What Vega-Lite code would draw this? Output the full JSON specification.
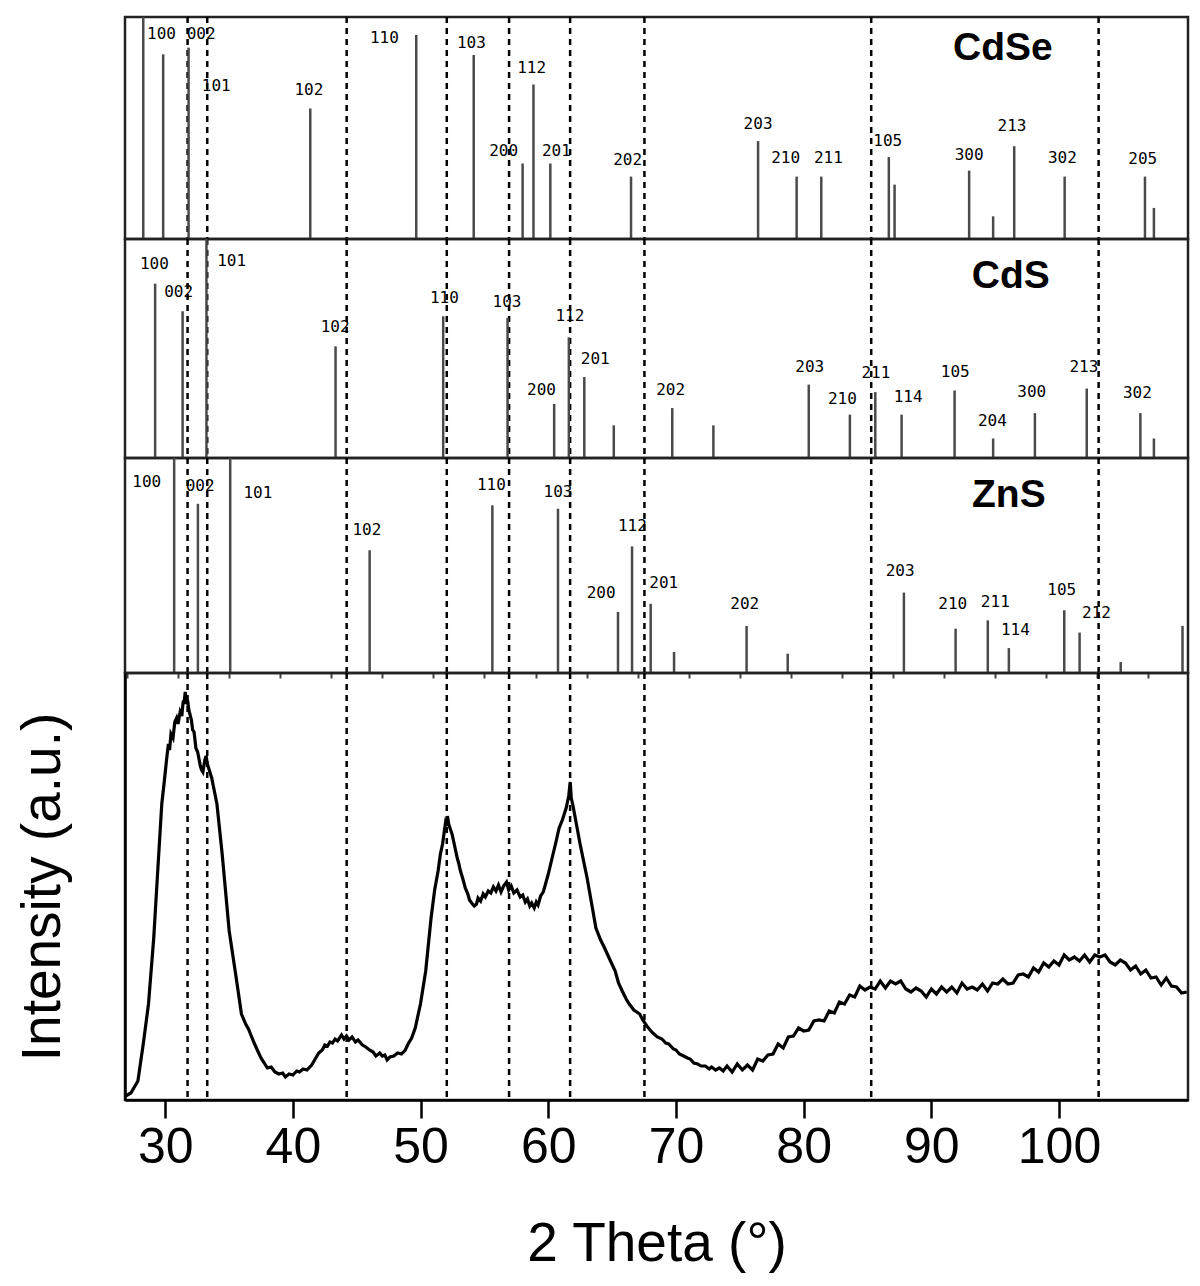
{
  "$schema": "https://vega.github.io/schema/vega-lite/v6.json",
  "background": "white",
  "padding": {"left": 13, "top": 14, "right": 10, "bottom": 5},
  "spacing": 0,
  "bounds": "flush",
  "config": {
    "view": {"stroke": "#222", "strokeWidth": 2.5},
    "font": "Liberation Sans"
  },
  "datasets": {
    "dashes": [{"t": 31.75}, {"t": 33.29}, {"t": 44.21}, {"t": 52.05}, {"t": 56.93}, {"t": 61.71}, {"t": 67.53}, {"t": 85.29}, {"t": 103.1}],
    "sticks": [
      {"phase": "CdSe", "t": 28.28, "h": 100}, {"phase": "CdSe", "t": 29.84, "h": 83.2}, {"phase": "CdSe", "t": 31.83, "h": 86.2}, {"phase": "CdSe", "t": 41.36, "h": 58.8}, {"phase": "CdSe", "t": 49.66, "h": 91.9}, {"phase": "CdSe", "t": 54.16, "h": 82.9}, {"phase": "CdSe", "t": 57.99, "h": 34.0}, {"phase": "CdSe", "t": 58.84, "h": 69.6}, {"phase": "CdSe", "t": 60.16, "h": 34.0}, {"phase": "CdSe", "t": 66.48, "h": 28.1}, {"phase": "CdSe", "t": 76.43, "h": 44.1}, {"phase": "CdSe", "t": 79.45, "h": 28.1}, {"phase": "CdSe", "t": 81.38, "h": 28.1}, {"phase": "CdSe", "t": 86.67, "h": 36.9}, {"phase": "CdSe", "t": 87.12, "h": 24.5}, {"phase": "CdSe", "t": 92.96, "h": 30.8}, {"phase": "CdSe", "t": 94.84, "h": 10.2}, {"phase": "CdSe", "t": 96.49, "h": 41.8}, {"phase": "CdSe", "t": 100.44, "h": 28.1}, {"phase": "CdSe", "t": 106.73, "h": 28.1}, {"phase": "CdSe", "t": 107.43, "h": 14.0},
      {"phase": "CdS", "t": 29.21, "h": 79.6}, {"phase": "CdS", "t": 31.36, "h": 67.0}, {"phase": "CdS", "t": 33.23, "h": 100}, {"phase": "CdS", "t": 43.34, "h": 51.0}, {"phase": "CdS", "t": 51.77, "h": 64.7}, {"phase": "CdS", "t": 56.81, "h": 63.9}, {"phase": "CdS", "t": 60.46, "h": 24.7}, {"phase": "CdS", "t": 61.61, "h": 55.1}, {"phase": "CdS", "t": 62.82, "h": 37.0}, {"phase": "CdS", "t": 65.13, "h": 14.9}, {"phase": "CdS", "t": 69.71, "h": 22.8}, {"phase": "CdS", "t": 72.93, "h": 14.9}, {"phase": "CdS", "t": 80.4, "h": 33.5}, {"phase": "CdS", "t": 83.62, "h": 19.8}, {"phase": "CdS", "t": 85.61, "h": 30.1}, {"phase": "CdS", "t": 87.67, "h": 19.8}, {"phase": "CdS", "t": 91.82, "h": 30.8}, {"phase": "CdS", "t": 94.84, "h": 8.9}, {"phase": "CdS", "t": 98.11, "h": 20.5}, {"phase": "CdS", "t": 102.17, "h": 31.7}, {"phase": "CdS", "t": 106.37, "h": 20.5}, {"phase": "CdS", "t": 107.43, "h": 8.9},
      {"phase": "ZnS", "t": 30.7, "h": 100}, {"phase": "ZnS", "t": 32.56, "h": 78.7}, {"phase": "ZnS", "t": 35.09, "h": 100}, {"phase": "ZnS", "t": 46.01, "h": 57.1}, {"phase": "ZnS", "t": 55.62, "h": 78.0}, {"phase": "ZnS", "t": 60.76, "h": 76.4}, {"phase": "ZnS", "t": 65.46, "h": 28.4}, {"phase": "ZnS", "t": 66.56, "h": 58.9}, {"phase": "ZnS", "t": 68.02, "h": 32.2}, {"phase": "ZnS", "t": 69.85, "h": 9.8}, {"phase": "ZnS", "t": 75.53, "h": 21.9}, {"phase": "ZnS", "t": 78.75, "h": 9.0}, {"phase": "ZnS", "t": 87.85, "h": 37.4}, {"phase": "ZnS", "t": 91.9, "h": 20.6}, {"phase": "ZnS", "t": 94.42, "h": 24.5}, {"phase": "ZnS", "t": 96.07, "h": 11.6}, {"phase": "ZnS", "t": 100.41, "h": 29.2}, {"phase": "ZnS", "t": 101.61, "h": 18.8}, {"phase": "ZnS", "t": 104.83, "h": 5.1}, {"phase": "ZnS", "t": 109.67, "h": 21.9}
    ],
    "labels": [
      {"phase": "CdSe", "hkl": "100", "t": 29.71, "y": 92.3}, {"phase": "CdSe", "hkl": "002", "t": 32.81, "y": 92.3}, {"phase": "CdSe", "hkl": "101", "t": 34.0, "y": 68.9}, {"phase": "CdSe", "hkl": "102", "t": 41.25, "y": 67.1}, {"phase": "CdSe", "hkl": "110", "t": 47.16, "y": 90.5}, {"phase": "CdSe", "hkl": "103", "t": 53.98, "y": 88.3}, {"phase": "CdSe", "hkl": "112", "t": 58.7, "y": 77.0}, {"phase": "CdSe", "hkl": "200", "t": 56.5, "y": 39.6}, {"phase": "CdSe", "hkl": "201", "t": 60.63, "y": 39.6}, {"phase": "CdSe", "hkl": "202", "t": 66.21, "y": 35.5}, {"phase": "CdSe", "hkl": "203", "t": 76.43, "y": 51.7}, {"phase": "CdSe", "hkl": "210", "t": 78.59, "y": 36.4}, {"phase": "CdSe", "hkl": "211", "t": 81.94, "y": 36.4}, {"phase": "CdSe", "hkl": "105", "t": 86.59, "y": 44.1}, {"phase": "CdSe", "hkl": "300", "t": 92.96, "y": 37.8}, {"phase": "CdSe", "hkl": "213", "t": 96.32, "y": 50.8}, {"phase": "CdSe", "hkl": "302", "t": 100.26, "y": 36.4}, {"phase": "CdSe", "hkl": "205", "t": 106.56, "y": 35.9},
      {"phase": "CdS", "hkl": "100", "t": 29.15, "y": 88.7}, {"phase": "CdS", "hkl": "002", "t": 31.05, "y": 75.9}, {"phase": "CdS", "hkl": "101", "t": 35.2, "y": 90.0}, {"phase": "CdS", "hkl": "102", "t": 43.31, "y": 59.7}, {"phase": "CdS", "hkl": "110", "t": 51.86, "y": 72.9}, {"phase": "CdS", "hkl": "103", "t": 56.77, "y": 71.3}, {"phase": "CdS", "hkl": "112", "t": 61.69, "y": 64.7}, {"phase": "CdS", "hkl": "201", "t": 63.68, "y": 45.1}, {"phase": "CdS", "hkl": "200", "t": 59.47, "y": 30.9}, {"phase": "CdS", "hkl": "202", "t": 69.58, "y": 30.9}, {"phase": "CdS", "hkl": "203", "t": 80.48, "y": 41.4}, {"phase": "CdS", "hkl": "210", "t": 83.03, "y": 26.8}, {"phase": "CdS", "hkl": "211", "t": 85.66, "y": 38.7}, {"phase": "CdS", "hkl": "114", "t": 88.18, "y": 27.9}, {"phase": "CdS", "hkl": "105", "t": 91.87, "y": 39.4}, {"phase": "CdS", "hkl": "204", "t": 94.78, "y": 17.1}, {"phase": "CdS", "hkl": "300", "t": 97.86, "y": 30.0}, {"phase": "CdS", "hkl": "213", "t": 101.95, "y": 41.4}, {"phase": "CdS", "hkl": "302", "t": 106.14, "y": 29.5},
      {"phase": "ZnS", "hkl": "100", "t": 28.55, "y": 88.8}, {"phase": "ZnS", "hkl": "002", "t": 32.73, "y": 87.0}, {"phase": "ZnS", "hkl": "101", "t": 37.26, "y": 83.5}, {"phase": "ZnS", "hkl": "102", "t": 45.79, "y": 66.7}, {"phase": "ZnS", "hkl": "110", "t": 55.54, "y": 87.4}, {"phase": "ZnS", "hkl": "103", "t": 60.76, "y": 84.4}, {"phase": "ZnS", "hkl": "112", "t": 66.59, "y": 68.4}, {"phase": "ZnS", "hkl": "200", "t": 64.14, "y": 37.0}, {"phase": "ZnS", "hkl": "201", "t": 69.04, "y": 41.9}, {"phase": "ZnS", "hkl": "202", "t": 75.39, "y": 31.9}, {"phase": "ZnS", "hkl": "203", "t": 87.56, "y": 47.3}, {"phase": "ZnS", "hkl": "210", "t": 91.68, "y": 31.9}, {"phase": "ZnS", "hkl": "211", "t": 95.01, "y": 32.8}, {"phase": "ZnS", "hkl": "114", "t": 96.58, "y": 19.8}, {"phase": "ZnS", "hkl": "105", "t": 100.21, "y": 38.5}, {"phase": "ZnS", "hkl": "212", "t": 102.93, "y": 28.1}
    ],
    "names": [
      {"phase": "CdSe", "t": 95.6, "y": 86.0}, {"phase": "CdS", "t": 96.22, "y": 83.0}, {"phase": "ZnS", "t": 96.07, "y": 82.7}
    ],
    "xrd": [
      {"t": 26.9, "i": 4}, {"t": 27.31, "i": 7}, {"t": 27.86, "i": 19}, {"t": 28.28, "i": 56}, {"t": 28.69, "i": 96}, {"t": 29.1, "i": 162}, {"t": 29.38, "i": 222}, {"t": 29.73, "i": 296}, {"t": 29.93, "i": 319}, {"t": 30.12, "i": 342}, {"t": 30.25, "i": 356}, {"t": 30.34, "i": 350}, {"t": 30.45, "i": 366}, {"t": 30.61, "i": 362}, {"t": 30.75, "i": 378}, {"t": 30.89, "i": 382}, {"t": 31.0, "i": 376}, {"t": 31.17, "i": 388}, {"t": 31.3, "i": 384}, {"t": 31.4, "i": 398}, {"t": 31.5, "i": 400}, {"t": 31.57, "i": 408}, {"t": 31.65, "i": 396}, {"t": 31.75, "i": 400}, {"t": 31.85, "i": 390}, {"t": 32.05, "i": 380}, {"t": 32.15, "i": 370}, {"t": 32.26, "i": 368}, {"t": 32.4, "i": 352}, {"t": 32.54, "i": 348}, {"t": 32.75, "i": 334}, {"t": 32.85, "i": 330}, {"t": 32.95, "i": 328}, {"t": 33.1, "i": 340}, {"t": 33.2, "i": 344}, {"t": 33.3, "i": 336}, {"t": 33.4, "i": 332}, {"t": 33.64, "i": 322}, {"t": 33.8, "i": 312}, {"t": 34.05, "i": 296}, {"t": 34.46, "i": 246}, {"t": 35.01, "i": 169}, {"t": 35.56, "i": 122}, {"t": 35.97, "i": 86}, {"t": 36.3, "i": 76}, {"t": 36.52, "i": 71}, {"t": 36.8, "i": 62}, {"t": 37.0, "i": 56}, {"t": 37.21, "i": 50}, {"t": 37.5, "i": 42}, {"t": 37.76, "i": 37}, {"t": 38.0, "i": 32}, {"t": 38.3, "i": 33}, {"t": 38.59, "i": 28}, {"t": 38.9, "i": 26}, {"t": 39.2, "i": 27}, {"t": 39.41, "i": 23}, {"t": 39.7, "i": 26}, {"t": 40.0, "i": 25}, {"t": 40.3, "i": 29}, {"t": 40.51, "i": 28}, {"t": 40.8, "i": 31}, {"t": 41.1, "i": 30}, {"t": 41.47, "i": 35}, {"t": 41.7, "i": 40}, {"t": 42.02, "i": 47}, {"t": 42.3, "i": 50}, {"t": 42.5, "i": 55}, {"t": 42.71, "i": 54}, {"t": 42.9, "i": 58}, {"t": 43.1, "i": 57}, {"t": 43.3, "i": 61}, {"t": 43.5, "i": 59}, {"t": 43.81, "i": 65}, {"t": 44.0, "i": 61}, {"t": 44.2, "i": 64}, {"t": 44.4, "i": 60}, {"t": 44.63, "i": 63}, {"t": 44.9, "i": 58}, {"t": 45.1, "i": 60}, {"t": 45.45, "i": 55}, {"t": 45.7, "i": 53}, {"t": 46.0, "i": 50}, {"t": 46.28, "i": 48}, {"t": 46.5, "i": 44}, {"t": 46.8, "i": 47}, {"t": 47.0, "i": 44}, {"t": 47.2, "i": 45}, {"t": 47.38, "i": 40}, {"t": 47.6, "i": 43}, {"t": 47.9, "i": 44}, {"t": 48.2, "i": 47}, {"t": 48.5, "i": 46}, {"t": 48.8, "i": 50}, {"t": 49.02, "i": 56}, {"t": 49.3, "i": 62}, {"t": 49.58, "i": 72}, {"t": 49.99, "i": 96}, {"t": 50.4, "i": 129}, {"t": 50.82, "i": 182}, {"t": 51.1, "i": 210}, {"t": 51.37, "i": 229}, {"t": 51.55, "i": 246}, {"t": 51.72, "i": 256}, {"t": 51.85, "i": 268}, {"t": 51.95, "i": 277}, {"t": 52.05, "i": 274}, {"t": 52.1, "i": 284}, {"t": 52.2, "i": 276}, {"t": 52.3, "i": 272}, {"t": 52.46, "i": 266}, {"t": 52.6, "i": 258}, {"t": 52.7, "i": 252}, {"t": 52.87, "i": 242}, {"t": 53.0, "i": 236}, {"t": 53.1, "i": 230}, {"t": 53.29, "i": 222}, {"t": 53.5, "i": 212}, {"t": 53.7, "i": 206}, {"t": 53.83, "i": 200}, {"t": 54.0, "i": 197}, {"t": 54.2, "i": 194}, {"t": 54.38, "i": 196}, {"t": 54.5, "i": 202}, {"t": 54.7, "i": 199}, {"t": 54.9, "i": 206}, {"t": 55.07, "i": 203}, {"t": 55.3, "i": 209}, {"t": 55.5, "i": 207}, {"t": 55.7, "i": 213}, {"t": 55.9, "i": 209}, {"t": 56.1, "i": 215}, {"t": 56.3, "i": 208}, {"t": 56.5, "i": 214}, {"t": 56.73, "i": 218}, {"t": 56.9, "i": 210}, {"t": 57.1, "i": 214}, {"t": 57.3, "i": 207}, {"t": 57.55, "i": 210}, {"t": 57.8, "i": 203}, {"t": 58.0, "i": 205}, {"t": 58.2, "i": 198}, {"t": 58.37, "i": 201}, {"t": 58.55, "i": 194}, {"t": 58.7, "i": 197}, {"t": 58.9, "i": 192}, {"t": 59.06, "i": 198}, {"t": 59.2, "i": 195}, {"t": 59.4, "i": 204}, {"t": 59.6, "i": 208}, {"t": 59.74, "i": 214}, {"t": 60.0, "i": 226}, {"t": 60.3, "i": 242}, {"t": 60.6, "i": 258}, {"t": 60.85, "i": 272}, {"t": 61.1, "i": 280}, {"t": 61.4, "i": 292}, {"t": 61.5, "i": 298}, {"t": 61.6, "i": 304}, {"t": 61.72, "i": 318}, {"t": 61.8, "i": 302}, {"t": 61.94, "i": 294}, {"t": 62.2, "i": 276}, {"t": 62.49, "i": 256}, {"t": 63.04, "i": 222}, {"t": 63.4, "i": 196}, {"t": 63.73, "i": 172}, {"t": 64.1, "i": 160}, {"t": 64.41, "i": 152}, {"t": 64.8, "i": 141}, {"t": 65.24, "i": 129}, {"t": 65.5, "i": 117}, {"t": 65.79, "i": 109}, {"t": 66.1, "i": 101}, {"t": 66.34, "i": 96}, {"t": 66.7, "i": 90}, {"t": 67.16, "i": 86}, {"t": 67.4, "i": 80}, {"t": 67.72, "i": 74}, {"t": 68.1, "i": 68}, {"t": 68.54, "i": 63}, {"t": 68.9, "i": 61}, {"t": 69.2, "i": 57}, {"t": 69.43, "i": 56}, {"t": 69.8, "i": 51}, {"t": 70.0, "i": 50}, {"t": 70.27, "i": 46}, {"t": 70.6, "i": 44}, {"t": 70.9, "i": 42}, {"t": 71.11, "i": 41}, {"t": 71.4, "i": 37}, {"t": 71.7, "i": 36}, {"t": 71.95, "i": 34}, {"t": 72.3, "i": 34}, {"t": 72.6, "i": 31}, {"t": 72.79, "i": 33}, {"t": 73.1, "i": 30}, {"t": 73.4, "i": 32}, {"t": 73.7, "i": 29},
      {"t": 74.0, "i": 34}, {"t": 74.4, "i": 28}, {"t": 74.8, "i": 36}, {"t": 75.2, "i": 30}, {"t": 75.6, "i": 35}, {"t": 76.0, "i": 30}, {"t": 76.4, "i": 41}, {"t": 76.8, "i": 39}, {"t": 77.2, "i": 45}, {"t": 77.6, "i": 46}, {"t": 78.0, "i": 56}, {"t": 78.4, "i": 52}, {"t": 78.8, "i": 63}, {"t": 79.2, "i": 64}, {"t": 79.6, "i": 72}, {"t": 80.0, "i": 69}, {"t": 80.4, "i": 70}, {"t": 80.8, "i": 79}, {"t": 81.2, "i": 80}, {"t": 81.6, "i": 79}, {"t": 82.0, "i": 89}, {"t": 82.4, "i": 87}, {"t": 82.8, "i": 98}, {"t": 83.2, "i": 96}, {"t": 83.6, "i": 105}, {"t": 84.0, "i": 103}, {"t": 84.4, "i": 114}, {"t": 84.8, "i": 110}, {"t": 85.2, "i": 113}, {"t": 85.6, "i": 111}, {"t": 86.0, "i": 119}, {"t": 86.4, "i": 112}, {"t": 86.8, "i": 119}, {"t": 87.2, "i": 116}, {"t": 87.6, "i": 119}, {"t": 88.0, "i": 111}, {"t": 88.4, "i": 108}, {"t": 88.8, "i": 112}, {"t": 89.2, "i": 109}, {"t": 89.6, "i": 103}, {"t": 90.0, "i": 111}, {"t": 90.4, "i": 106}, {"t": 90.8, "i": 113}, {"t": 91.2, "i": 108}, {"t": 91.6, "i": 113}, {"t": 92.0, "i": 107}, {"t": 92.4, "i": 117}, {"t": 92.8, "i": 111}, {"t": 93.2, "i": 113}, {"t": 93.6, "i": 110}, {"t": 94.0, "i": 116}, {"t": 94.4, "i": 109}, {"t": 94.8, "i": 117}, {"t": 95.2, "i": 116}, {"t": 95.6, "i": 121}, {"t": 96.0, "i": 116}, {"t": 96.4, "i": 117}, {"t": 96.8, "i": 125}, {"t": 97.2, "i": 126}, {"t": 97.6, "i": 123}, {"t": 98.0, "i": 132}, {"t": 98.4, "i": 128}, {"t": 98.8, "i": 137}, {"t": 99.2, "i": 133}, {"t": 99.6, "i": 139}, {"t": 100.0, "i": 135}, {"t": 100.4, "i": 145}, {"t": 100.8, "i": 140}, {"t": 101.2, "i": 143}, {"t": 101.6, "i": 139}, {"t": 102.0, "i": 145}, {"t": 102.4, "i": 138}, {"t": 102.8, "i": 145}, {"t": 103.2, "i": 143}, {"t": 103.6, "i": 145}, {"t": 104.0, "i": 138}, {"t": 104.4, "i": 135}, {"t": 104.8, "i": 140}, {"t": 105.2, "i": 137}, {"t": 105.6, "i": 130}, {"t": 106.0, "i": 134}, {"t": 106.4, "i": 126}, {"t": 106.8, "i": 130}, {"t": 107.2, "i": 122}, {"t": 107.6, "i": 123}, {"t": 108.0, "i": 115}, {"t": 108.4, "i": 122}, {"t": 108.8, "i": 114}, {"t": 109.2, "i": 113}, {"t": 109.6, "i": 107}, {"t": 110.0, "i": 108}
    ]
  },
  "vconcat": [
    {
      "width": 1063, "height": 222,
      "layer": [
        {"data": {"name": "dashes"}, "mark": {"type": "rule", "color": "#000", "strokeWidth": 2.5, "strokeDash": [6, 5]},
         "encoding": {"x": {"field": "t", "type": "quantitative", "scale": {"domain": [26.85, 110.1], "nice": false, "zero": false}, "axis": null}}},
        {"data": {"name": "sticks"}, "transform": [{"filter": "datum.phase === 'CdSe'"}], "mark": {"type": "rule", "color": "#4a4a4a", "strokeWidth": 2.5},
         "encoding": {"x": {"field": "t", "type": "quantitative"}, "y": {"field": "h", "type": "quantitative", "scale": {"domain": [0, 100], "nice": false}, "axis": null}, "y2": {"datum": 0}}},
        {"data": {"name": "labels"}, "transform": [{"filter": "datum.phase === 'CdSe'"}], "mark": {"type": "text", "font": "DejaVu Sans Mono", "fontSize": 16, "color": "#000", "align": "center", "baseline": "middle"},
         "encoding": {"x": {"field": "t", "type": "quantitative"}, "y": {"field": "y", "type": "quantitative"}, "text": {"field": "hkl", "type": "nominal"}}},
        {"data": {"name": "names"}, "transform": [{"filter": "datum.phase === 'CdSe'"}], "mark": {"type": "text", "font": "Liberation Sans", "fontWeight": "bold", "fontSize": 39, "color": "#000", "align": "center", "baseline": "middle"},
         "encoding": {"x": {"field": "t", "type": "quantitative"}, "y": {"field": "y", "type": "quantitative"}, "text": {"field": "phase", "type": "nominal"}}}
      ]
    },
    {
      "width": 1063, "height": 219,
      "layer": [
        {"data": {"name": "dashes"}, "mark": {"type": "rule", "color": "#000", "strokeWidth": 2.5, "strokeDash": [6, 5]},
         "encoding": {"x": {"field": "t", "type": "quantitative", "scale": {"domain": [26.85, 110.1], "nice": false, "zero": false}, "axis": null}}},
        {"data": {"name": "sticks"}, "transform": [{"filter": "datum.phase === 'CdS'"}], "mark": {"type": "rule", "color": "#4a4a4a", "strokeWidth": 2.5},
         "encoding": {"x": {"field": "t", "type": "quantitative"}, "y": {"field": "h", "type": "quantitative", "scale": {"domain": [0, 100], "nice": false}, "axis": null}, "y2": {"datum": 0}}},
        {"data": {"name": "labels"}, "transform": [{"filter": "datum.phase === 'CdS'"}], "mark": {"type": "text", "font": "DejaVu Sans Mono", "fontSize": 16, "color": "#000", "align": "center", "baseline": "middle"},
         "encoding": {"x": {"field": "t", "type": "quantitative"}, "y": {"field": "y", "type": "quantitative"}, "text": {"field": "hkl", "type": "nominal"}}},
        {"data": {"name": "names"}, "transform": [{"filter": "datum.phase === 'CdS'"}], "mark": {"type": "text", "font": "Liberation Sans", "fontWeight": "bold", "fontSize": 39, "color": "#000", "align": "center", "baseline": "middle"},
         "encoding": {"x": {"field": "t", "type": "quantitative"}, "y": {"field": "y", "type": "quantitative"}, "text": {"field": "phase", "type": "nominal"}}}
      ]
    },
    {
      "width": 1063, "height": 215,
      "layer": [
        {"data": {"name": "dashes"}, "mark": {"type": "rule", "color": "#000", "strokeWidth": 2.5, "strokeDash": [6, 5]},
         "encoding": {"x": {"field": "t", "type": "quantitative", "scale": {"domain": [26.85, 110.1], "nice": false, "zero": false},
           "axis": {"values": [27,28,29,30,31,32,33,34,35,36,37,38,39,40,41,42,43,44,45,46,47,48,49,50,51,52,53,54,55,56,57,58,59,60,61,62,63,64,65,66,67,68,69,70,71,72,73,74,75,76,77,78,79,80,81,82,83,84,85,86,87,88,89,90,91,92,93,94,95,96,97,98,99,100,101,102,103,104,105,106,107,108,109,110], "labels": false, "domain": false, "grid": false, "ticks": true, "tickSize": 5, "tickWidth": 2, "tickColor": "#444", "title": null}}}},
        {"data": {"name": "sticks"}, "transform": [{"filter": "datum.phase === 'ZnS'"}], "mark": {"type": "rule", "color": "#4a4a4a", "strokeWidth": 2.5},
         "encoding": {"x": {"field": "t", "type": "quantitative"}, "y": {"field": "h", "type": "quantitative", "scale": {"domain": [0, 100], "nice": false}, "axis": null}, "y2": {"datum": 0}}},
        {"data": {"name": "labels"}, "transform": [{"filter": "datum.phase === 'ZnS'"}], "mark": {"type": "text", "font": "DejaVu Sans Mono", "fontSize": 16, "color": "#000", "align": "center", "baseline": "middle"},
         "encoding": {"x": {"field": "t", "type": "quantitative"}, "y": {"field": "y", "type": "quantitative"}, "text": {"field": "hkl", "type": "nominal"}}},
        {"data": {"name": "names"}, "transform": [{"filter": "datum.phase === 'ZnS'"}], "mark": {"type": "text", "font": "Liberation Sans", "fontWeight": "bold", "fontSize": 39, "color": "#000", "align": "center", "baseline": "middle"},
         "encoding": {"x": {"field": "t", "type": "quantitative"}, "y": {"field": "y", "type": "quantitative"}, "text": {"field": "phase", "type": "nominal"}}}
      ]
    },
    {
      "width": 1063, "height": 427,
      "layer": [
        {"data": {"name": "dashes"}, "mark": {"type": "rule", "color": "#000", "strokeWidth": 2.5, "strokeDash": [6, 5]},
         "encoding": {"x": {"field": "t", "type": "quantitative", "scale": {"domain": [26.85, 110.1], "nice": false, "zero": false},
           "axis": {"values": [30, 40, 50, 60, 70, 80, 90, 100], "grid": false, "domainColor": "#000", "domainWidth": 2.5, "tickColor": "#000", "tickWidth": 2.5, "tickSize": 18, "labelFont": "Liberation Sans", "labelFontSize": 50, "labelColor": "#000", "labelPadding": 4, "labelFlush": false, "title": "2 Theta (°)", "titleFont": "Liberation Sans", "titleFontSize": 55, "titleFontWeight": "normal", "titleColor": "#000", "titlePadding": 45}}}},
        {"data": {"name": "xrd"}, "mark": {"type": "line", "color": "#000", "strokeWidth": 3.2},
         "encoding": {"x": {"field": "t", "type": "quantitative"}, "y": {"field": "i", "type": "quantitative", "scale": {"domain": [0, 427], "nice": false},
           "axis": {"labels": false, "ticks": false, "grid": false, "domainColor": "#000", "domainWidth": 2.5, "title": "Intensity (a.u.)", "titleFont": "Liberation Sans", "titleFontSize": 55, "titleFontWeight": "normal", "titleColor": "#000", "titlePadding": 54}}}}
      ]
    }
  ]
}
